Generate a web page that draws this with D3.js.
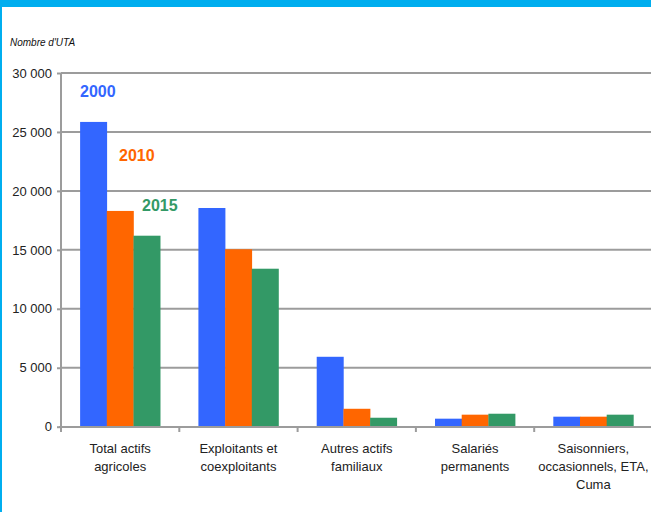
<!DOCTYPE html>
<html><head><meta charset="utf-8">
<script src="https://cdn.jsdelivr.net/npm/d3@7"></script>
<style>body{margin:0;background:#fff}svg{display:block;font-family:"Liberation Sans",Arial,sans-serif}</style>
</head><body><svg id="c" width="651" height="512"></svg>
<script>
const categories = ["Total actifs\nagricoles","Exploitants et\ncoexploitants","Autres actifs\nfamiliaux","Salariés\npermanents","Saisonniers,\noccasionnels, ETA,\nCuma"];
const series = ["2000","2010","2015"];
const values2000 = [25850, 18550, 5930, 680, 850];
const values2010 = [18300, 15050, 1520, 1020, 850];
const values2015 = [16200, 13400, 760, 1100, 1020];
const colors = ["#3366FF","#FF6600","#339966"];
const yTicks = [0,5000,10000,15000,20000,25000,30000];
const yTickLabels = ["0","5 000","10 000","15 000","20 000","25 000","30 000"];
const allValues = [values2000, values2010, values2015];

const svg = d3.select("#c");
// frame
svg.append("rect").attr("x",0).attr("y",0).attr("width",651).attr("height",7).attr("fill","#00AEEF");
svg.append("rect").attr("x",0).attr("y",0).attr("width",2).attr("height",512).attr("fill","#00AEEF");

const y = d3.scaleLinear().domain([0,30000]).range([426.7,73]);
const x = d3.scaleBand().domain(categories).range([61,652.5]).padding(0);
const x1 = d3.scaleBand().domain(series).range([0,x.bandwidth()]).paddingInner(0).paddingOuter(0.716);

// gridlines
svg.append("g").selectAll("line").data(yTicks.slice(1)).join("line")
  .attr("x1",61).attr("x2",651).attr("y1",d=>y(d)).attr("y2",d=>y(d))
  .attr("stroke","#9c9c9c").attr("stroke-width",2);

// y axis
const yAxis = d3.axisLeft(y).tickValues(yTicks).tickFormat((d,i)=>yTickLabels[i]).tickSize(4).tickPadding(5);
const gy = svg.append("g").attr("transform","translate(61,0)").call(yAxis);
gy.select(".domain").attr("stroke","#9c9c9c").attr("stroke-width",2).attr("d","M0,73V427");
gy.selectAll(".tick line").attr("stroke","#9c9c9c").attr("stroke-width",2);
gy.selectAll(".tick text").attr("font-size",13).attr("fill","#222").attr("font-family","'Liberation Sans',Arial,sans-serif");

// bars
const groups = svg.append("g").selectAll("g").data(categories).join("g")
  .attr("transform",d=>`translate(${x(d)},0)`);
groups.selectAll("rect").data((d,i)=>series.map((s,j)=>({s,j,v:allValues[j][i]}))).join("rect")
  .attr("x",d=>x1(d.s)).attr("width",x1.bandwidth()+0.3)
  .attr("y",d=>y(d.v)).attr("height",d=>y(0)-y(d.v))
  .attr("fill",d=>colors[d.j]);

// x axis
const xAxis = d3.axisBottom(x).tickSize(0).tickFormat("");
const gx = svg.append("g").attr("transform","translate(0,427)").call(xAxis);
gx.select(".domain").attr("stroke","#9c9c9c").attr("stroke-width",2).attr("d","M59,0H651");
svg.append("g").selectAll("line").data(categories).join("line")
  .attr("x1",d=>x(d)).attr("x2",d=>x(d)).attr("y1",427).attr("y2",432)
  .attr("stroke","#9c9c9c").attr("stroke-width",2);

// category labels
const lab = svg.append("g").selectAll("text").data(categories).join("text")
  .attr("text-anchor","middle").attr("font-size",13).attr("fill","#222")
  .attr("x",d=>x(d)+x.bandwidth()/2).attr("y",453);
lab.selectAll("tspan").data(d=>d.split("\n")).join("tspan")
  .attr("x",function(){return this.parentNode.getAttribute("x");})
  .attr("dy",(d,i)=>i===0?0:18).text(d=>d);

// series labels
const labelPos = [[80,97],[119,161],[142,211]];
svg.append("g").selectAll("text").data(series).join("text")
  .attr("x",(d,i)=>labelPos[i][0]).attr("y",(d,i)=>labelPos[i][1])
  .attr("font-size",16).attr("font-weight","bold").attr("fill",(d,i)=>colors[i]).text(d=>d);

// unit label
svg.append("text").attr("x",10).attr("y",46).attr("font-size",10).attr("font-style","italic").attr("fill","#111").text("Nombre d'UTA");
</script></body></html>
